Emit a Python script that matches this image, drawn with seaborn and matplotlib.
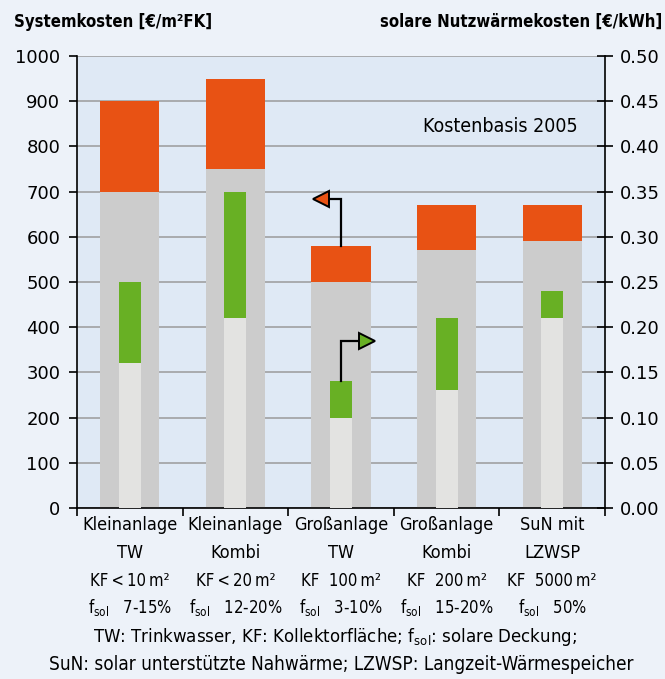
import matplotlib
matplotlib.use("Agg")
import matplotlib.pyplot as plt
import matplotlib.transforms as mtransforms
import seaborn as sns

# data
categories = ["Kleinanlage TW", "Kleinanlage Kombi", "Großanlage TW", "Großanlage Kombi", "SuN mit LZWSP"]
name_line1 = ["Kleinanlage", "Kleinanlage", "Großanlage", "Großanlage", "SuN mit"]
name_line2 = ["TW", "Kombi", "TW", "Kombi", "LZWSP"]
kf_line = ["KF\u2009<\u200910\u2009m²", "KF\u2009<\u200920\u2009m²", "KF  100\u2009m²", "KF  200\u2009m²", "KF  5000\u2009m²"]
fsol_line = ["7-15%", "12-20%", "3-10%", "15-20%", "50%"]

system_base = [700, 750, 500, 570, 590]      # Systemkosten, grey part
system_total = [900, 950, 580, 670, 670]     # Systemkosten, upper end (orange)
heat_base = [0.16, 0.21, 0.10, 0.13, 0.21]   # Nutzwärmekosten, lower end
heat_total = [0.25, 0.35, 0.14, 0.21, 0.24]  # Nutzwärmekosten, upper end (green)

left_ticks = list(range(0, 1001, 100))
right_ticks = [i * 0.05 for i in range(11)]

ORANGE = "#e85214"
GREY = "#cccccc"
GREEN = "#68b024"
LIGHT = "#e3e3e1"
FIG_BG = "#edf2f9"
AX_BG = "#dfe9f5"

cond = dict(family="DejaVu Sans", fontstretch="condensed")

fig = plt.figure(figsize=(6.65, 6.79), dpi=100, facecolor=FIG_BG)
ax = fig.add_axes([77 / 665, 171 / 679, 528 / 665, 452 / 679])
ax.set_facecolor(AX_BG)
ax2 = ax.twinx()

# Systemkosten bars (left axis)
sns.barplot(x=categories, y=system_total, color=ORANGE, saturation=1, width=0.56,
            linewidth=0, edgecolor="none", ax=ax)
sns.barplot(x=categories, y=system_base, color=GREY, saturation=1, width=0.56,
            linewidth=0, edgecolor="none", ax=ax)

# Nutzwärmekosten bars (right axis)
sns.barplot(x=categories, y=heat_total, color=GREEN, saturation=1, width=0.21,
            linewidth=0, edgecolor="none", ax=ax2)
sns.barplot(x=categories, y=heat_base, color=LIGHT, saturation=1, width=0.21,
            linewidth=0, edgecolor="none", ax=ax2)

ax.set_ylim(0, 1000)
ax2.set_ylim(0, 0.5)
ax.set_xlim(-0.5, 4.5)
ax2.set_xlim(-0.5, 4.5)

ax.set_yticks(left_ticks)
ax.set_yticklabels([str(t) for t in left_ticks])
ax2.set_yticks(right_ticks)
ax2.set_yticklabels([f"{t:.2f}" for t in right_ticks])

ax.grid(axis="y", color="#9a9a9a", linewidth=1.1)
ax.set_axisbelow(True)

for a in (ax, ax2):
    a.set_xlabel("")
    a.set_ylabel("")
    a.spines["top"].set_visible(False)
    for s in a.spines.values():
        s.set_color("black")
        s.set_linewidth(1.2)

ax.spines["right"].set_visible(False)
ax2.spines["left"].set_visible(False)
ax2.spines["bottom"].set_visible(False)

# ticks at category boundaries, no labels there
bounds = [i - 0.5 for i in range(len(categories) + 1)]
ax.set_xticks(bounds)
ax.set_xticklabels([""] * len(bounds))
ax.tick_params(axis="x", direction="out", length=6, width=1.2, color="black")
ax.tick_params(axis="y", direction="out", length=6, width=1.2, pad=6, labelsize=13)
ax2.tick_params(axis="y", direction="inout", length=12, width=1.2, pad=5, labelsize=13)

# arrows showing which axis belongs to which bars
i = 2
ax.plot([i, i, i - 0.12], [system_total[i], system_total[i] + 103, system_total[i] + 103],
        color="black", lw=1.6, zorder=5, solid_joinstyle="miter")
ax.plot([i - 0.19], [system_total[i] + 103], marker="<", markersize=11, color=ORANGE,
        markeredgecolor="black", markeredgewidth=1.4, zorder=6)
ax2.plot([i, i, i + 0.16], [heat_total[i], heat_total[i] + 0.045, heat_total[i] + 0.045],
         color="black", lw=1.6, zorder=5, solid_joinstyle="miter")
ax2.plot([i + 0.25], [heat_total[i] + 0.045], marker=">", markersize=11, color=GREEN,
         markeredgecolor="black", markeredgewidth=1.4, zorder=6)

ax.text(0.949, 0.843, "Kostenbasis 2005", transform=ax.transAxes, ha="right", va="center",
        fontsize=14, **cond)

# category labels below the axis
trans = mtransforms.blended_transform_factory(ax.transData, ax.transAxes)
for k in range(len(categories)):
    ax.text(k, -0.0376, name_line1[k], transform=trans, ha="center", va="center", fontsize=13, **cond)
    ax.text(k, -0.0996, name_line2[k], transform=trans, ha="center", va="center", fontsize=13, **cond)
    ax.text(k, -0.1615, kf_line[k], transform=trans, ha="center", va="center", fontsize=12, **cond)
    ax.text(k, -0.2212, r"f$_\mathregular{sol}$   " + fsol_line[k], transform=trans,
            ha="center", va="center", fontsize=12, **cond)

# headers
fig.text(14 / 665, 1 - 22 / 679, "Systemkosten [€/m²FK]", ha="left", va="center",
         fontsize=12, fontweight="bold", **cond)
fig.text(662 / 665, 1 - 22 / 679, "solare Nutzwärmekosten [€/kWh]", ha="right", va="center",
         fontsize=12, fontweight="bold", **cond)

# footnotes
fig.text(335 / 665, 1 - 637 / 679, r"TW: Trinkwasser, KF: Kollektorfläche; f$_\mathregular{sol}$: solare Deckung;",
         ha="center", va="center", fontsize=13.3, **cond)
fig.text(341 / 665, 1 - 665 / 679, "SuN: solar unterstützte Nahwärme; LZWSP: Langzeit-Wärmespeicher",
         ha="center", va="center", fontsize=13.6, **cond)

fig.savefig("out.png", dpi=100, facecolor=FIG_BG)
